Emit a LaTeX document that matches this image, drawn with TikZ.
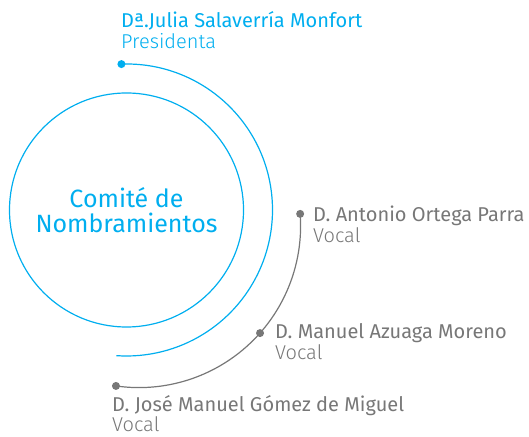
\documentclass[tikz,border=0pt]{standalone}
\usepackage{fontspec}
\setmainfont{Fira Sans}
\newfontfamily\rolefont{Fira Sans Light}
\usetikzlibrary{positioning}
\definecolor{comiteblue}{HTML}{00AEEF}
\definecolor{vocalgray}{HTML}{777777}
\tikzset{
    dot/.style={circle, fill, inner sep=0pt, minimum size=8pt},
    namelabel/.style={anchor=base west, inner sep=0pt, font=\fontsize{20}{22}\selectfont},
    rolelabel/.style={anchor=base west, inner sep=0pt, font=\rolefont\fontsize{20}{22}\selectfont},
    bluearc/.style={comiteblue, line width=1.2pt},
    grayarc/.style={vocalgray, line width=1.2pt},
    x=1pt, y=1pt
}
\begin{document}
\begin{tikzpicture}
    \useasboundingbox (0,0) rectangle (529,436);

    % comite
    \coordinate (c) at (126.5,226);
    \node[draw=comiteblue, line width=1.2pt, circle, minimum size=234pt,
          text=comiteblue, align=center, font=\fontsize{25}{25}\selectfont] (comite) at (c)
          {Comit\'e de\\Nombramientos};

    % presidenta
    \node[dot, comiteblue] (presdot) at ([shift={(92:146)}]c) {};
    \draw[bluearc] (presdot.center) arc[start angle=92, end angle=-94, radius=146];
    \node[namelabel, text=comiteblue] (julia) at (121,408) {Dª.Julia Salaverría Monfort};
    \node[rolelabel, text=comiteblue, below=21pt of julia.base west, anchor=base west] (presi) {Presidenta};

    % vocales
    \coordinate (g) at (139,210);
    \node[dot, vocalgray] (antdot) at ([shift={(4.3:161.6)}]g) {};
    \node[dot, vocalgray] (mandot) at ([shift={(-41.5:161.6)}]g) {};
    \node[dot, vocalgray] (josdot) at ([shift={(-98.2:161.6)}]g) {};
    \draw[grayarc] (antdot.center) arc[start angle=4.3, end angle=-98.2, radius=161.6];

    \node[namelabel, text=vocalgray] (antonio) at (313,214) {D. Antonio Ortega Parra};
    \node[rolelabel, text=vocalgray, below=21pt of antonio.base west, anchor=base west] (vocal1) {Vocal};
    \node[namelabel, text=vocalgray] (manuel) at (275,98) {D. Manuel Azuaga Moreno};
    \node[rolelabel, text=vocalgray, below=21pt of manuel.base west, anchor=base west] (vocal2) {Vocal};
    \node[namelabel, text=vocalgray] (jose) at (112,25) {D. José Manuel Gómez de Miguel};
    \node[rolelabel, text=vocalgray, below=20pt of jose.base west, anchor=base west] (vocal3) {Vocal};
\end{tikzpicture}
\end{document}
